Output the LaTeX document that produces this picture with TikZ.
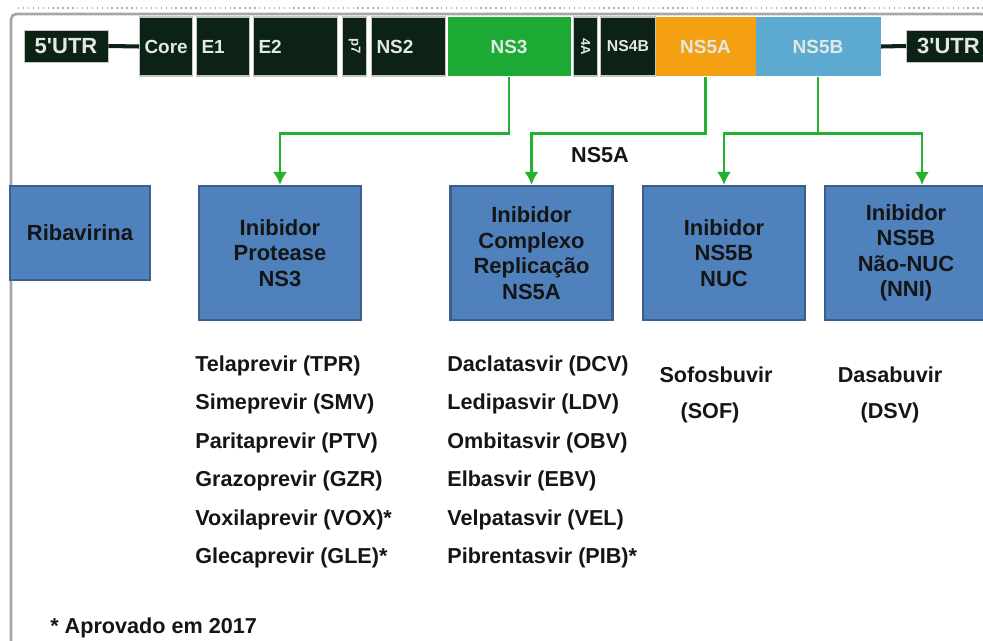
\documentclass[tikz,border=0pt]{standalone}
\usepackage{fontspec}
\setmainfont{Liberation Sans}
\usetikzlibrary{calc,arrows.meta}

\definecolor{segdark}{HTML}{0B2214}
\definecolor{segtext}{HTML}{E4E8E4}
\definecolor{ns3green}{HTML}{1DAA34}
\definecolor{ns5aorange}{HTML}{F4A012}
\definecolor{ns5bblue}{HTML}{5CAAD2}
\definecolor{boxblue}{HTML}{4F81BD}
\definecolor{boxedge}{HTML}{3A5F8D}
\definecolor{linkgreen}{HTML}{25B030}
\definecolor{txtdark}{HTML}{151515}

\tikzset{
  seg/.style={draw=gray!45, line width=0.6pt, minimum height=1.18cm, inner xsep=1mm, inner ysep=0pt, anchor=west, text=segtext, font=\bfseries\fontsize{10.8}{12}\selectfont},
  dseg/.style={seg, fill=segdark, text width=#1, align=left},
  cseg/.style={seg, draw=none, minimum width=#1},
  utr/.style={fill=segdark, draw=gray!45, text=segtext, minimum height=0.64cm, minimum width=1.68cm, inner sep=0pt, font=\bfseries\fontsize{12.5}{14}\selectfont},
  drugbox/.style={fill=boxblue, draw=boxedge, line width=1.2pt, minimum width=3.24cm, minimum height=2.68cm, align=center, inner sep=0pt, text=txtdark, font=\bfseries\fontsize{12.5}{14.5}\selectfont},
  drug/.style={anchor=west, inner sep=0pt, text=txtdark, font=\bfseries\fontsize{12.3}{14}\selectfont},
  link/.style={draw=linkgreen, line width=1.6pt, -{Latex[length=2.6mm,width=2.8mm]}}
}

\begin{document}
\begin{tikzpicture}[x=0.02cm, y=-0.02cm]
		\useasboundingbox (0,0) rectangle (983,641);
		
		% frame
		\draw [gray!70, line width=1.5pt, rounded corners=3pt] (11,641) -- (11,14) -- (983,14);
		\draw [gray!60, dotted, line width=0.8pt] (18,8) -- (983,8);
		
		% genome
		\node[utr] (utr5) at (66,46) {5\textquotesingle UTR};
		\node[dseg=0.86cm] (core) at (139,46.5) {Core};
		\node[dseg=0.86cm] (e1) at (196,46.5) {E1};
		\node[dseg=1.48cm] (e2) at (253,46.5) {E2};
		\node[seg, fill=segdark, minimum width=0.48cm, inner xsep=0pt] (p7) at (342,46.5) {\rotatebox{-90}{\fontsize{7.5}{8}\selectfont p7}};
		\node[dseg=1.28cm] (ns2) at (371,46.5) {NS2};
		\node[cseg=2.46cm, fill=ns3green] (ns3) at (447,46.5) {NS3};
		\node[seg, fill=segdark, minimum width=0.48cm, inner xsep=0pt] (ns4a) at (573,46.5) {\rotatebox{-90}{\fontsize{7.5}{8}\selectfont 4A}};
		\node[seg, fill=segdark, minimum width=1.1cm, inner xsep=0pt, font=\bfseries\fontsize{9}{10}\selectfont] (ns4b) at (600,46.5) {NS4B};
		\node[cseg=2.0cm, fill=ns5aorange] (ns5a) at (655,46.5) {NS5A};
		\node[cseg=2.5cm, fill=ns5bblue] (ns5b) at (755,46.5) {NS5B};
		\node[utr, anchor=west] (utr3) at (906,46) {3\textquotesingle UTR};
		\draw [segdark, line width=2.3pt] (utr5.east) -- (core.west);
		\draw [segdark, line width=2.3pt] (ns5b.east) -- (utr3.west);
		
		% classes
		\node[drugbox, minimum width=2.8cm, minimum height=1.88cm] (riba) at (80,233) {Ribavirina};
		\node[drugbox] (protease) at (280,253) {Inibidor\\Protease\\NS3};
		\node[drugbox] (complexo) at (531.5,253) {Inibidor\\Complexo\\Replicação\\NS5A};
		\node[drugbox] (nuc) at (724,253) {Inibidor\\NS5B\\NUC};
		\node[drugbox] (nni) at (906,253) {Inibidor\\NS5B\\Não-NUC\\(NNI)};
		
		% targets
		\draw[link] (ns3.south) -- ++(0,57) -| (protease.north);
		\draw[link] (ns5a.south) -- ++(0,57) -| (complexo.north);
		\draw[link] (ns5b.south) -- ++(0,57) coordinate (split) -| (nuc.north);
		\draw[link] (split) -| ($(nni.north)+(16,0)$);
		\node[drug, anchor=center] (lblns5a) at (600,155) {NS5A};
		
		% drugs
		\foreach \name [count=\i from 0] in {Telaprevir (TPR), Simeprevir (SMV), Paritaprevir (PTV), Grazoprevir (GZR), Voxilaprevir (VOX)*, Glecaprevir (GLE)*}
		\node[drug] (pi\i) at (195,366+38.4*\i) {\name};
		\foreach \name [count=\i from 0] in {Daclatasvir (DCV), Ledipasvir (LDV), Ombitasvir (OBV), Elbasvir (EBV), Velpatasvir (VEL), Pibrentasvir (PIB)*}
		\node[drug] (na\i) at (447,366+38.4*\i) {\name};
		\node[drug, anchor=center] (sof) at (716,375) {Sofosbuvir};
		\node[drug, anchor=center] (sofab) at (710,413) {(SOF)};
		\node[drug, anchor=center] (dsv) at (890,375) {Dasabuvir};
		\node[drug, anchor=center] (dsvab) at (890,413) {(DSV)};
		
		\node[drug] (note) at (50,628) {* Aprovado em 2017};
\end{tikzpicture}
\end{document}
